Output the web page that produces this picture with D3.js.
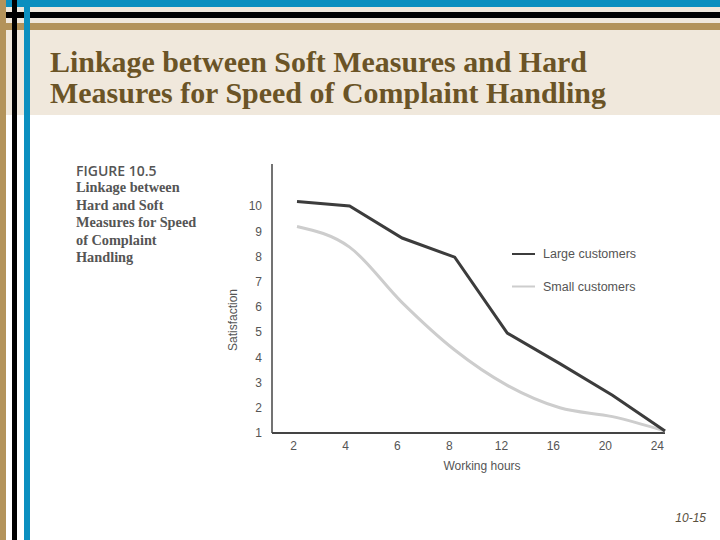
<!DOCTYPE html>
<html>
<head>
<meta charset="utf-8">
<script src="https://cdn.jsdelivr.net/npm/d3@7"></script>
<style>
  html, body { margin: 0; padding: 0; background: #fff; }
  svg { display: block; }
</style>
</head>
<body>
<div id="chart"></div>
<script>
const hours = ["2", "4", "6", "8", "12", "16", "20", "24"];
const largeCustomers = [10.18, 10.0, 8.73, 7.97, 4.96, 3.75, 2.5, 1.08];
const smallCustomers = [9.19, 8.37, 6.17, 4.29, 2.89, 2.0, 1.65, 1.08];
const yTicks = [1, 2, 3, 4, 5, 6, 7, 8, 9, 10];
const captionLines = ["Linkage between", "Hard and Soft", "Measures for Speed", "of Complaint", "Handling"];

const width = 720, height = 540;

const svg = d3.select("#chart").append("svg")
    .attr("width", width)
    .attr("height", height);

// slide frame
svg.append("rect").attr("x", 6).attr("y", 0).attr("width", width - 6).attr("height", 115).attr("fill", "#f0e8dc");
svg.append("rect").attr("x", 6).attr("y", 0).attr("width", width - 6).attr("height", 7).attr("fill", "#0b8fbf");
svg.append("rect").attr("x", 6).attr("y", 12).attr("width", width - 6).attr("height", 6).attr("fill", "#000");
svg.append("rect").attr("x", 6).attr("y", 23).attr("width", width - 6).attr("height", 7).attr("fill", "#b3935a");
svg.append("rect").attr("x", 0).attr("y", 0).attr("width", 6).attr("height", height).attr("fill", "#b3935a");
svg.append("rect").attr("x", 12).attr("y", 0).attr("width", 5).attr("height", height).attr("fill", "#000");
svg.append("rect").attr("x", 24).attr("y", 0).attr("width", 6).attr("height", height).attr("fill", "#0b8fbf");

// title
const titleLines = [
    { text: "Linkage between Soft Measures and Hard", y: 72, len: 537 },
    { text: "Measures for Speed of Complaint Handling", y: 103, len: 556 }
];
svg.selectAll(".title")
    .data(titleLines)
    .enter()
    .append("text")
    .attr("class", "title")
    .attr("x", 50)
    .attr("y", d => d.y)
    .attr("textLength", d => d.len)
    .attr("lengthAdjust", "spacingAndGlyphs")
    .attr("font-family", "'Liberation Serif', 'Times New Roman', serif")
    .attr("font-weight", "bold")
    .attr("font-size", 29)
    .attr("fill", "#6b5426")
    .text(d => d.text);

// figure caption
svg.append("text")
    .attr("x", 76).attr("y", 176)
    .attr("font-family", "'Open Sans', 'DejaVu Sans', sans-serif")
    .attr("font-weight", 600)
    .attr("font-size", 14)
    .attr("fill", "#555")
    .text("FIGURE 10.5");

svg.selectAll(".caption")
    .data(captionLines)
    .enter()
    .append("text")
    .attr("class", "caption")
    .attr("x", 76)
    .attr("y", (d, i) => 192 + i * 17.5)
    .attr("font-family", "'Liberation Serif', 'Times New Roman', serif")
    .attr("font-weight", "bold")
    .attr("font-size", 14.3)
    .attr("fill", "#555")
    .text(d => d);

// chart
const margin = { top: 164, left: 272, right: 665, bottom: 433 };

const x = d3.scalePoint()
    .domain(hours)
    .range([297, 665]);

const y = d3.scaleLinear()
    .domain([1, 10])
    .range([margin.bottom, 206]);

const yAxis = svg.append("g")
    .attr("transform", `translate(${margin.left},0)`)
    .call(d3.axisLeft(y).tickValues(yTicks).tickSize(0).tickPadding(10));
yAxis.select(".domain").remove();
yAxis.selectAll("text")
    .attr("font-family", "'Liberation Sans', Arial, sans-serif")
    .attr("font-size", 12)
    .attr("fill", "#555");

const xAxis = svg.append("g")
    .attr("transform", `translate(0,${margin.bottom})`)
    .call(d3.axisBottom(x).tickSize(0).tickPadding(8));
xAxis.select(".domain").remove();
xAxis.selectAll("text")
    .attr("dx", (d, i) => -4 - i * 0.6)
    .attr("font-family", "'Liberation Sans', Arial, sans-serif")
    .attr("font-size", 12)
    .attr("fill", "#555");

// axis lines
svg.append("line")
    .attr("x1", margin.left).attr("x2", margin.left)
    .attr("y1", margin.top).attr("y2", margin.bottom)
    .attr("stroke", "#444").attr("stroke-width", 1.5);
svg.append("line")
    .attr("x1", margin.left).attr("x2", margin.right)
    .attr("y1", margin.bottom).attr("y2", margin.bottom)
    .attr("stroke", "#444").attr("stroke-width", 2);

// lines
const lineLarge = d3.line()
    .x((d, i) => x(hours[i]))
    .y(d => y(d));

const lineSmall = d3.line()
    .x((d, i) => x(hours[i]))
    .y(d => y(d))
    .curve(d3.curveMonotoneX);

svg.append("path")
    .datum(smallCustomers)
    .attr("d", lineSmall)
    .attr("fill", "none")
    .attr("stroke", "#cdcdcd")
    .attr("stroke-width", 3);

svg.append("path")
    .datum(largeCustomers)
    .attr("d", lineLarge)
    .attr("fill", "none")
    .attr("stroke", "#3c3c3c")
    .attr("stroke-width", 3);

// axis titles
svg.append("text")
    .attr("transform", "translate(237,320) rotate(-90)")
    .attr("text-anchor", "middle")
    .attr("font-family", "'Liberation Sans', Arial, sans-serif")
    .attr("font-size", 12)
    .attr("fill", "#555")
    .text("Satisfaction");

svg.append("text")
    .attr("x", 482).attr("y", 470)
    .attr("text-anchor", "middle")
    .attr("font-family", "'Liberation Sans', Arial, sans-serif")
    .attr("font-size", 12)
    .attr("fill", "#555")
    .text("Working hours");

// legend
const legend = [
    { name: "Large customers", color: "#3c3c3c", y: 254 },
    { name: "Small customers", color: "#cdcdcd", y: 286.5 }
];
const lg = svg.selectAll(".legend")
    .data(legend)
    .enter()
    .append("g")
    .attr("class", "legend")
    .attr("transform", d => `translate(512,${d.y})`);
lg.append("line")
    .attr("x1", 0).attr("x2", 23)
    .attr("stroke", d => d.color)
    .attr("stroke-width", 2);
lg.append("text")
    .attr("x", 31).attr("dy", "0.35em")
    .attr("font-family", "'Liberation Sans', Arial, sans-serif")
    .attr("font-size", 12.5)
    .attr("fill", "#555")
    .text(d => d.name);

// slide number
svg.append("text")
    .attr("x", 706).attr("y", 522)
    .attr("text-anchor", "end")
    .attr("font-family", "'Liberation Sans', Arial, sans-serif")
    .attr("font-style", "italic")
    .attr("font-size", 12)
    .attr("fill", "#5a5040")
    .text("10-15");
</script>
</body>
</html>
